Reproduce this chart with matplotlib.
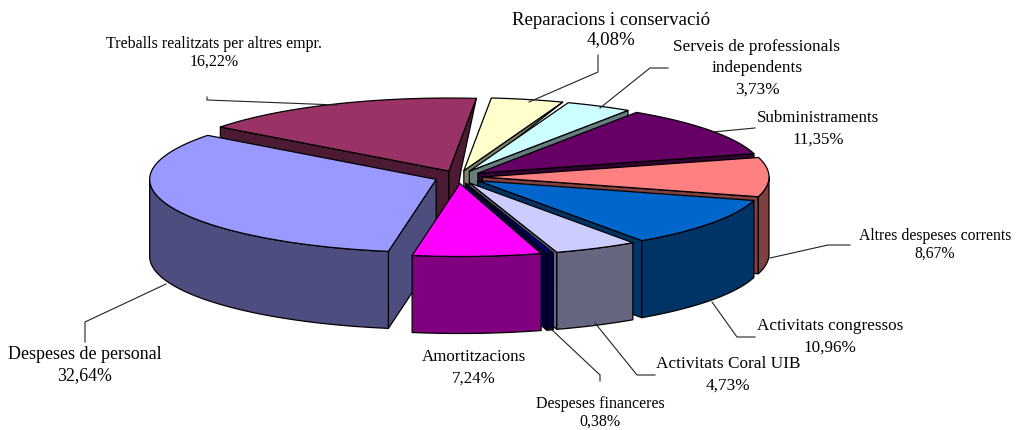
import numpy as np
import matplotlib
matplotlib.use("Agg")
import matplotlib.pyplot as plt

plt.rcParams['font.family'] = ['Liberation Serif', 'DejaVu Serif']

names = ["Reparacions i conservació", "Serveis de professionals\nindependents",
         "Subministraments", "Altres despeses corrents", "Activitats congressos",
         "Activitats Coral UIB", "Despeses financeres", "Amortitzacions",
         "Despeses de personal", "Treballs realitzats per altres empr."]
values = [4.08, 3.73, 11.35, 8.67, 10.96, 4.73, 0.38, 7.24, 32.64, 16.22]
top_colors = ["#FFFFCC", "#CCFFFF", "#660066", "#FF8080", "#0066CC",
              "#CCCCFF", "#000080", "#FF00FF", "#9999FF", "#993366"]
side_colors = ["#808066", "#668080", "#330033", "#804040", "#003366",
               "#666680", "#000040", "#800080", "#4D4D80", "#4D1A33"]

# pie geometry, in pixels of the picture
cx, cy = 458.5, 177
rx, ry = 286.5, 73
depth = 77
ex, ey = 24, 6.5
start_angle = 84.5
draw_order = [9, 0, 1, 2, 3, 4, 8, 5, 6, 7]

# label centre, font size, line spacing, leader line
labels = [
    (611, 30, 13.6, 1.22, [(529, 102), (598, 72), (598, 55)]),
    (757, 68, 12.4, 1.45, [(600, 108), (650, 68), (668, 68)]),
    (818, 129, 12.2, 1.45, [(713, 132), (755, 128)]),
    (935, 245, 11.3, 1.12, [(770, 258), (828, 245), (850, 245)]),
    (830, 337, 12.3, 1.45, [(712, 302), (737, 337), (755, 337)]),
    (728, 375, 12.4, 1.45, [(595, 323), (637, 375), (655, 375)]),
    (600, 413, 11.5, 1.12, [(550, 328), (600, 375), (600, 381)]),
    (474, 368, 12.2, 1.45, []),
    (85, 365, 12.9, 1.38, [(166, 284), (85, 322), (85, 342)]),
    (214, 53, 11.5, 1.12, [(337, 105), (207, 100), (207, 97)]),
]

fig = plt.figure(figsize=(10.18, 4.30), dpi=100)
ax = fig.add_axes([0, 0, 1, 1])
ax.set_xlim(0, 1018)
ax.set_ylim(430, 0)
ax.axis("off")

edges = start_angle - 3.6 * np.concatenate([[0], np.cumsum(values)])


def rim(ox, oy, a, b, dz=0):
    t = np.radians(np.linspace(a, b, 80))
    return np.column_stack([ox + rx * np.cos(t), oy - ry * np.sin(t) + dz])


def poly(pts, color):
    ax.fill(pts[:, 0], pts[:, 1], facecolor=color, edgecolor="black",
            linewidth=0.9, joinstyle="round")


for i in draw_order:
    s, e = edges[i], edges[i + 1]
    mid = np.radians((s + e) / 2)
    ox = cx + ex * np.cos(mid)
    oy = cy - ey * np.sin(mid)
    apex = np.array([[ox, oy]])
    # cut faces, only those turned to the viewer
    for a, visible in ((s, np.cos(np.radians(s)) < 0), (e, np.cos(np.radians(e)) > 0)):
        if not visible:
            continue
        p = rim(ox, oy, a, a)[:1]
        if np.sin(np.radians(a)) > 0.9:
            # far face narrows away behind the next slice
            pts = np.vstack([apex, p, apex + [12, 0], apex + [0, depth]])
        else:
            pts = np.vstack([apex, p, p + [0, depth], apex + [0, depth]])
        poly(pts, side_colors[i])
    # outer wall
    a, b = min(s, 0), max(e, -180)
    if a > b:
        top = rim(ox, oy, a, b)
        poly(np.vstack([top, top[::-1] + [0, depth]]), side_colors[i])
    poly(np.vstack([apex, rim(ox, oy, s, e)]), top_colors[i])

for name, value, (x, y, size, spacing, leader) in zip(names, values, labels):
    if leader:
        xs, ys = zip(*leader)
        ax.plot(xs, ys, color="#222222", linewidth=0.8)
    pct = f"{value:.2f}".replace(".", ",") + "%"
    ax.text(x, y, name + "\n" + pct, ha="center", va="center", fontsize=size,
            linespacing=spacing, color="black")

fig.savefig("out.png", dpi=100)
